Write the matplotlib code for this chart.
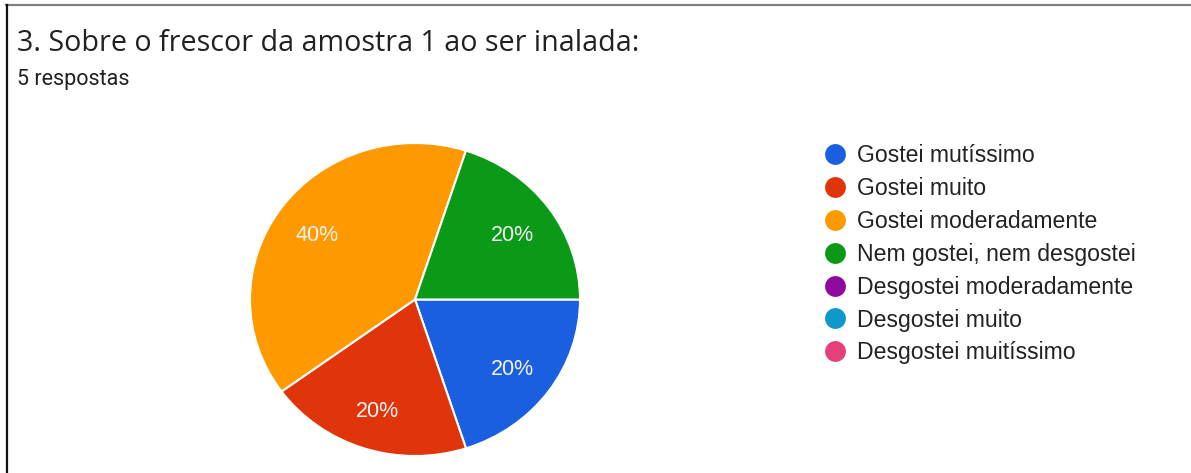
import matplotlib
matplotlib.use('Agg')
from matplotlib import pyplot as plt
from matplotlib.lines import Line2D
from matplotlib.font_manager import FontProperties

plt.rcParams['font.family'] = ['Roboto', 'DejaVu Sans']

# Data
title = '3. Sobre o frescor da amostra 1 ao ser inalada:'
subtitle = '5 respostas'
categories = ['Gostei mutíssimo', 'Gostei muito', 'Gostei moderadamente',
              'Nem gostei, nem desgostei', 'Desgostei moderadamente',
              'Desgostei muito', 'Desgostei muitíssimo']
counts = [1, 1, 2, 1, 0, 0, 0]
colors = ['#1b5fe1', '#e0340a', '#fe9a00', '#0b9a17', '#910aa0', '#0f98c9', '#e5407b']

W, H = 1191, 473
fig = plt.figure(figsize=(W / 100, H / 100), dpi=100)
fig.patch.set_facecolor('white')

# frame lines (top grey, left black)
fig.add_artist(Line2D([6 / W, 1], [1 - 5 / H, 1 - 5 / H], color='#808080', lw=1.6))
fig.add_artist(Line2D([6.5 / W, 6.5 / W], [0, 1 - 5 / H], color='#111111', lw=1.6))

fig.text(17 / W, 1 - 51 / H, title, fontsize=20.6, color='#202124', va='baseline',
         family=['Open Sans', 'DejaVu Sans'])
fig.text(17 / W, 1 - 85 / H, subtitle, fontsize=15.5, color='#202124', va='baseline')

# pie (slightly stretched, like the screenshot)
ax = fig.add_axes([250 / W, 17 / H, 330 / W, 313 / H])
vals = [c for c in counts if c > 0]
cols = [col for c, col in zip(counts, colors) if c > 0]
wedges, texts, autotexts = ax.pie(
    vals, colors=cols, startangle=0, counterclock=False,
    autopct='%1.0f%%', pctdistance=0.73,
    wedgeprops=dict(edgecolor='white', linewidth=1.5))
for t in autotexts:
    t.set_fontproperties(FontProperties(family='Liberation Sans', size=15.5))
    t.set_color('#f4f4f4')
    x, y = t.get_position()
    t.set_position((x, y - 0.02))
ax.set_aspect('auto')
ax.set_xlim(-1, 1)
ax.set_ylim(-1, 1)

# legend with all categories
handles = [Line2D([], [], marker='o', linestyle='', markersize=15, color=c,
                  markeredgewidth=0) for c in colors]
fig.legend(handles, categories, loc='upper left',
           bbox_to_anchor=(825 / W, 1 - 144 / H), frameon=False,
           prop=FontProperties(family='Liberation Sans', size=16.6),
           labelcolor='#222222',
           handlelength=0.87, handletextpad=0.52, labelspacing=0.43,
           borderpad=0, borderaxespad=0)

fig.savefig('out.png', dpi=100, facecolor='white')
